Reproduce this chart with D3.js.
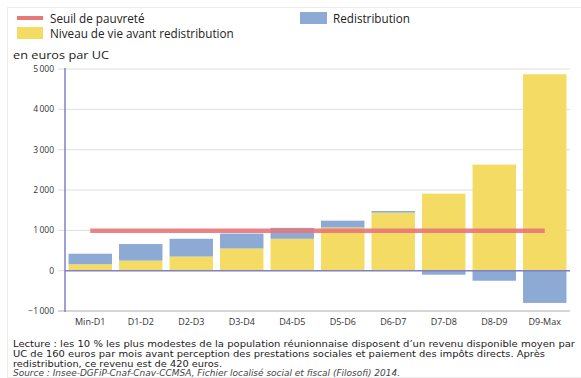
<!DOCTYPE html>
<html>
<head>
<meta charset="utf-8">
<script src="https://cdn.jsdelivr.net/npm/d3@7"></script>
<style>
  html, body { margin: 0; padding: 0; background: #fff; }
  svg { display: block; font-family: "Open Sans", sans-serif; }
</style>
</head>
<body>
<svg id="chart" width="581" height="378"></svg>
<script>
// Tranches de niveau de vie (déciles)
const categories = ["Min-D1", "D1-D2", "D2-D3", "D3-D4", "D4-D5", "D5-D6", "D6-D7", "D7-D8", "D8-D9", "D9-Max"];
// Niveau de vie mensuel avant redistribution (euros par UC)
const avantRedistribution = [160, 250, 350, 550, 790, 1070, 1440, 1910, 2630, 4870];
// Apport (ou prélèvement) de la redistribution
const redistribution = [260, 410, 440, 370, 270, 170, 40, -100, -250, -800];
// Seuil de pauvreté
const seuilPauvrete = 990;
const yTicks = [-1000, 0, 1000, 2000, 3000, 4000, 5000];

const svg = d3.select("#chart");
const colors = { niveau: "#f4db63", redis: "#8caad3", seuil: "#e8777a", axis: "#8080c8", grid: "#dedede" };

// Cadre léger
svg.append("rect").attr("x", 7.5).attr("y", 7.5).attr("width", 580).attr("height", 370)
  .attr("fill", "none").attr("stroke", "#ececec");

const margin = { left: 65, right: 11, top: 69, bottom: 67 };
const W = 581, H = 378;
const x = d3.scaleBand().domain(categories).range([margin.left, W - margin.right]).paddingInner(0.14).paddingOuter(0.07);
const y = d3.scaleLinear().domain([-1000, 5000]).range([H - margin.bottom, margin.top]);

// Grille
svg.append("g").selectAll("line").data(yTicks).join("line")
  .attr("x1", margin.left - 7).attr("x2", W - margin.right)
  .attr("y1", d => y(d)).attr("y2", d => y(d))
  .attr("stroke", d => d === -1000 ? "#d6d6d6" : colors.grid)
  .attr("stroke-width", d => d === -1000 ? 2 : 1);

// Étiquettes de l'axe vertical
svg.append("g").selectAll("text").data(yTicks).join("text")
  .attr("x", 54).attr("y", d => y(d)).attr("dy", "0.35em")
  .attr("text-anchor", "end").attr("font-size", 8.5).attr("fill", "#333")
  .text(d => d3.format(",")(d).replace(/,/g, "\u2009"));

// Séries empilées (décalage divergent pour les valeurs négatives)
const table = categories.map((c, i) => ({ cat: c, niveau: avantRedistribution[i], redis: redistribution[i] }));
const series = d3.stack().keys(["niveau", "redis"]).offset(d3.stackOffsetDiverging)(table);

svg.append("g").selectAll("g").data(series).join("g")
  .attr("fill", d => colors[d.key])
  .selectAll("rect").data(d => d).join("rect")
  .attr("x", d => x(d.data.cat))
  .attr("width", x.bandwidth())
  .attr("y", d => y(Math.max(d[0], d[1])))
  .attr("height", d => Math.abs(y(d[0]) - y(d[1])));

// Ligne du zéro
svg.append("line").attr("x1", margin.left).attr("x2", W - margin.right)
  .attr("y1", y(0)).attr("y2", y(0)).attr("stroke", colors.axis).attr("stroke-width", 1.5);

// Axe vertical
svg.append("line").attr("x1", margin.left).attr("x2", margin.left)
  .attr("y1", y(5000) - 1).attr("y2", y(-1000) + 1).attr("stroke", colors.axis).attr("stroke-width", 1.5);

// Seuil de pauvreté
const xc = c => x(c) + x.bandwidth() / 2;
svg.append("line")
  .attr("x1", xc(categories[0])).attr("x2", xc(categories[categories.length - 1]))
  .attr("y1", y(seuilPauvrete)).attr("y2", y(seuilPauvrete))
  .attr("stroke", colors.seuil).attr("stroke-width", 4.5).attr("opacity", 0.9);

// Étiquettes des catégories
svg.append("g").selectAll("text").data(categories).join("text")
  .attr("x", d => xc(d)).attr("y", 325)
  .attr("text-anchor", "middle").attr("font-size", 9).attr("fill", "#333")
  .text(d => d);

// Légende
const legend = svg.append("g").attr("font-size", 11.7).attr("fill", "#222");
legend.append("rect").attr("x", 17).attr("y", 16).attr("width", 26).attr("height", 4).attr("fill", colors.seuil);
legend.append("text").attr("x", 50).attr("y", 23).text("Seuil de pauvreté");
legend.append("rect").attr("x", 17).attr("y", 27).attr("width", 26).attr("height", 12).attr("fill", colors.niveau);
legend.append("text").attr("x", 50).attr("y", 37.5).text("Niveau de vie avant redistribution");
legend.append("rect").attr("x", 300).attr("y", 12).attr("width", 27).attr("height", 12).attr("fill", colors.redis);
legend.append("text").attr("x", 333).attr("y", 23).text("Redistribution");

// Unité
svg.append("text").attr("x", 13).attr("y", 59).attr("font-size", 11.5).attr("fill", "#222")
  .attr("textLength", 96).attr("lengthAdjust", "spacingAndGlyphs")
  .text("en euros par UC");

// Note de lecture et source (police compacte pour tenir sur quatre lignes serrées)
const note = svg.append("g").attr("font-size", 8.5).attr("fill", "#222")
  .style("font-family", "'DejaVu Sans', sans-serif");
const lignes = [
  "Lecture : les 10 % les plus modestes de la population réunionnaise disposent d’un revenu disponible moyen par",
  "UC de 160 euros par mois avant perception des prestations sociales et paiement des impôts directs. Après",
  "redistribution, ce revenu est de 420 euros."
];
const largeurs = [562, 532, 209];
lignes.forEach((t, i) => {
  note.append("text").attr("x", 13).attr("y", 347 + i * 10).text(t)
    .attr("textLength", largeurs[i]).attr("lengthAdjust", "spacingAndGlyphs");
});
note.append("text").attr("x", 13).attr("y", 376.3).attr("font-style", "italic").attr("fill", "#444")
  .attr("textLength", 387).attr("lengthAdjust", "spacingAndGlyphs")
  .text("Source : Insee-DGFiP-Cnaf-Cnav-CCMSA, Fichier localisé social et fiscal (Filosofi) 2014.");
</script>
</body>
</html>
